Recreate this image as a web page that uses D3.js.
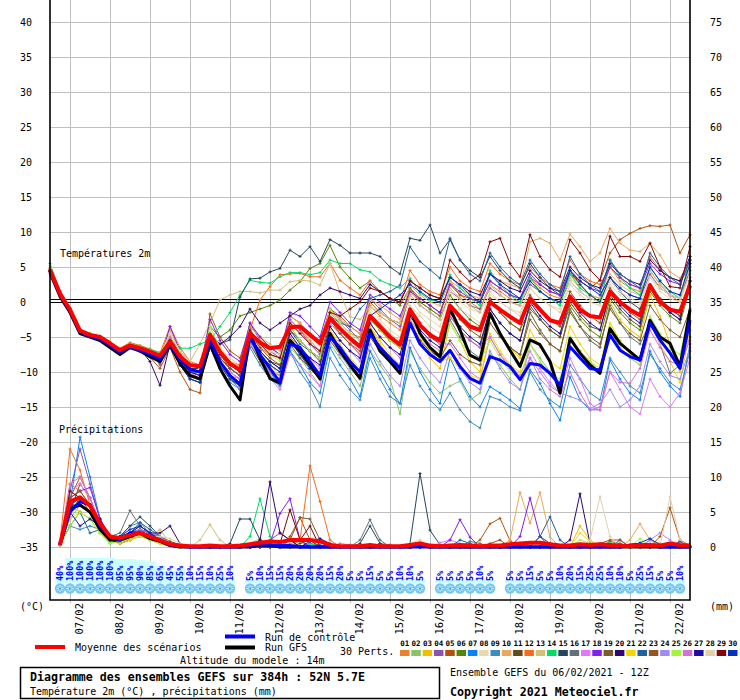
<!DOCTYPE html>
<html>
<head>
<meta charset="utf-8">
<script src="https://cdn.jsdelivr.net/npm/d3@7"></script>
<style>
  body { margin: 0; background: #fff; }
  text { font-family: "DejaVu Sans Mono", monospace; }
</style>
</head>
<body>
<div id="chart"></div>
<script>
// ---- data ----
const dateLabels = ["07/02","08/02","09/02","10/02","11/02","12/02","13/02","14/02",
  "15/02","16/02","17/02","18/02","19/02","20/02","21/02","22/02"];
const tempTicks = [40,35,30,25,20,15,10,5,0,-5,-10,-15,-20,-25,-30,-35];
const precipTicks = [75,70,65,60,55,50,45,40,35,30,25,20,15,10,5,0];

const memberColors = ["#e8822e","#88c46a","#f0c000","#8c52ae","#b2520c","#548606","#0a82fa","#e8d8b0",
  "#3c8cbe","#eaa85a","#624c1c","#fa6a1e","#d2c078","#02dc64","#22465c","#62707a",
  "#e078f8","#8220f2","#7c5c2c","#300672","#f2d800","#22609c","#92561e","#a08cf0",
  "#a4f43c","#d272d6","#200ca2","#e2d0aa","#820606","#0232be"];

// precipitation probability (%) for steps 1..64
const snowProb = [40,100,100,100,100,100,95,95,90,85,65,45,55,10,15,10,25,10,0,
  5,10,15,15,20,20,20,20,15,20,5,5,15,5,5,10,10,5,0,
  5,5,5,5,10,5,0,
  5,5,15,5,5,10,20,15,25,25,10,10,5,25,15,5,5,10,0];

// temperature 2m, 65 steps of 6h from 06/02 12Z
const tMean = [4.6,1.2,-1.1,-4.1,-4.7,-5.0,-5.9,-6.9,-6.2,-6.6,-7.1,-7.7,
  -5.7,-7.8,-9.0,-9.2,-4.7,-7.1,-8.8,-9.7, -4.5,-5.8,-6.6,-6.4,-3.6,-3.5,-4.7,-5.9,
  -2.3,-3.8,-5.2,-6.4,-2.0,-3.5,-5.0,-6.1, -1.1,-3.3,-4.7,-5.5,-0.5,-2.1,-3.5,-4.0,
  0.0,-1.1,-2.1,-3.0,0.5,-1.1,-2.6,-3.0, 0.8,-1.1,-2.0,-2.2,1.5,0.0,-1.1,-1.9,
  2.4,0.0,-1.1,-1.4,2.4];
const tControl = [4.3,1.0,-1.3,-4.3,-4.9,-5.3,-6.2,-7.2,-6.4,-6.9,-7.5,-8.2,
  -6.0,-8.3,-9.6,-10.0,-5.5,-8.5,-10.5,-11.8, -5.0,-7.5,-9.5,-11.5,-6.0,-6.5,-8.5,-10.5,
  -5.0,-6.5,-8.5,-10.0,-4.5,-6.5,-8.0,-9.5, -3.0,-6.0,-7.5,-8.5,-6.9,-9.2,-10.9,-11.6,
  -7.8,-8.3,-9.2,-11.1,-8.8,-9.0,-10.2,-11.9, -6.4,-8.0,-9.5,-9.7,-4.7,-6.9,-7.8,-8.3,
  -3.0,-5.4,-7.3,-9.5,-2.6];
const tGfs = [4.2,0.8,-1.5,-4.5,-5.0,-5.5,-6.5,-7.5,-6.5,-7.0,-7.8,-8.5,
  -6.2,-8.8,-10.5,-11.0,-6.0,-9.5,-12.0,-14.0, -4.5,-8.0,-10.9,-11.6,-5.5,-7.0,-9.0,-11.0,
  -4.5,-7.0,-9.0,-10.9,-4.0,-7.0,-8.5,-10.2, -1.0,-4.5,-6.5,-7.8,-0.9,-4.0,-7.6,-8.3,
  -1.6,-4.5,-6.9,-9.2,-5.4,-6.1,-8.5,-13.0, -5.2,-7.3,-9.0,-10.2,-3.8,-5.9,-7.1,-8.3,
  -2.6,-5.0,-5.9,-9.2,-1.1];

const t01 = [4.8,1.4,-0.9,-4.0,-4.5,-5.2,-6.1,-7.0,-6.0,-6.4,-7.3,-8.0,
  -5.0,-7.5,-9.5,-10.0,-5.5,-8.0,-9.5,-10.5, -5.0,-6.5,-7.5,-8.0,-3.0,-4.0,-5.5,-7.0,
  -1.5,-3.0,-4.5,-5.0,-0.5,-2.0,-3.0,-4.0, 1.5,0.0,-1.0,-2.0,3.0,1.0,0.0,-1.0,
  2.5,1.5,0.5,0.0,3.5,2.0,1.0,0.5, 4.0,2.5,1.0,0.5,5.0,3.0,2.0,1.5, 4.5,2.5,1.0,0.0,5.5];
const t02 = [4.4,1.0,-1.3,-4.4,-5.0,-5.3,-6.2,-7.2,-6.4,-6.9,-7.5,-8.2,
  -6.0,-8.5,-10.0,-10.5,-6.0,-9.0,-11.0,-12.0, -6.0,-8.5,-10.5,-11.5,-6.5,-8.0,-10.0,-12.0,
  -6.0,-8.0,-10.0,-12.0,-7.0,-9.0,-11.0,-16.0, -7.0,-9.5,-11.5,-13.0,-12.0,-11.3,-14.0,-13.0,
  -7.5,-9.0,-11.0,-12.5,-6.0,-8.0,-10.0,-11.5, -5.0,-7.0,-8.5,-10.0,-4.0,-6.5,-8.0,-9.0,
  -3.0,-5.5,-7.0,-8.5,-4.0];
const t03 = [4.7,1.3,-1.0,-4.2,-4.8,-5.1,-6.0,-7.0,-6.3,-6.8,-7.4,-8.3,
  -6.5,-9.0,-11.0,-11.5,-6.5,-9.5,-11.0,-12.0, -5.5,-8.0,-9.5,-10.5,-5.0,-7.0,-9.5,-11.0,
  -4.0,-6.5,-8.5,-10.0,-3.5,-6.0,-8.0,-9.5, -2.5,-5.5,-8.0,-9.5,-3.0,-5.5,-8.5,-10.0,
  -2.0,-4.5,-6.5,-8.0,-1.5,-4.0,-6.0,-7.0, -1.0,-3.5,-5.5,-6.5,0.0,-2.5,-4.0,-5.0,
  1.0,-2.0,-6.0,-10.0,-3.0];
const t04 = [4.5,1.1,-1.2,-4.0,-4.6,-4.9,-5.8,-6.8,-6.1,-6.5,-7.0,-9.0,
  -5.5,-8.0,-10.0,-10.5,-4.5,-7.0,-9.0,-10.0, -3.0,-5.5,-7.0,-8.0,-2.5,-4.0,-6.0,-7.5,
  -1.0,-2.5,-4.0,-5.5,0.5,-1.0,-2.5,-3.5, 1.0,-0.5,-1.5,-2.5,1.5,0.5,-0.5,-1.0,
  2.0,1.0,0.0,-0.5,2.5,1.5,0.5,0.0, 3.0,1.5,0.5,0.0,3.5,2.0,1.0,0.5, 4.0,2.0,1.0,0.5,4.5];
const t05 = [4.3,0.9,-1.4,-4.3,-4.8,-5.4,-6.3,-7.4,-6.6,-7.1,-7.9,-9.5,
  -6.5,-10.0,-12.5,-13.0,-1.7,-5.0,-7.0,-8.0, -3.5,-5.0,-6.5,-7.5,-2.0,-3.0,-4.5,-5.5,
  -1.0,-2.0,-3.5,-4.5,0.0,-1.5,-2.5,-3.0, 2.0,0.5,-0.5,-1.5,2.5,1.0,0.5,0.0,
  3.0,2.0,1.0,0.5,3.5,2.5,1.5,1.0, 4.0,3.0,2.0,3.1,7.0,8.9,9.8,10.5, 10.9,10.8,11.0,7.0,9.6];
const t06 = [4.6,1.2,-1.0,-4.1,-4.7,-5.1,-6.0,-7.0,-6.2,-6.7,-7.2,-7.8,
  -5.0,-7.5,-9.0,-9.5,-3.5,-5.0,-4.0,-2.0, -1.5,-1.0,-0.5,0.3,1.7,2.9,4.8,5.5,
  8.1,5.0,3.4,2.0,3.0,1.5,0.5,-0.5, 2.0,0.0,-1.0,-2.0,1.0,-1.0,-2.5,-3.5,
  0.5,-1.5,-3.0,-4.0,-1.0,-2.5,-4.0,-5.0, -0.5,-2.5,-4.0,-5.0,0.5,-1.5,-3.0,-4.0,
  1.5,-0.5,-2.0,-3.0,2.0];
const t07 = [4.4,1.1,-1.2,-4.2,-4.9,-5.2,-6.1,-7.1,-6.3,-6.8,-7.3,-8.0,
  -6.0,-8.5,-10.5,-11.0,-6.0,-9.0,-11.0,-12.5, -5.5,-8.0,-10.0,-12.0,-7.0,-9.0,-11.5,-13.0,
  -6.5,-9.0,-11.0,-13.5,-7.0,-10.0,-12.5,-14.5, -6.5,-10.0,-12.5,-14.5,-8.0,-11.0,-13.5,-15.0,
  -12.1,-13.0,-14.0,-15.2,-9.7,-11.6,-14.5,-16.9, -10.7,-14.0,-15.4,-15.4,-8.3,-11.0,-13.0,-14.0,
  -7.0,-10.0,-12.0,-13.5,-6.0];
const t08 = [4.7,1.3,-1.1,-4.0,-4.6,-5.0,-5.8,-6.8,-6.0,-6.5,-7.0,-7.6,
  -5.0,-7.0,-9.0,-9.0,-4.0,-6.5,-8.0,-9.0, -4.0,-5.5,-7.0,-7.5,-3.0,-4.5,-6.0,-7.0,
  -2.5,-4.0,-5.5,-7.0,-1.0,-2.5,-4.0,-5.0, 0.5,-1.5,-2.5,-3.5,1.5,0.0,-1.0,-1.5,
  1.0,0.0,-1.0,-1.5,2.0,0.5,-0.5,-1.0, 3.0,1.5,0.5,0.0,2.5,1.0,0.0,-0.5, 3.5,1.5,0.5,0.0,4.0];
const t09 = [4.5,1.1,-1.2,-4.2,-4.8,-5.2,-6.2,-7.3,-6.4,-6.9,-7.5,-8.3,
  -6.5,-9.0,-11.0,-11.5,-6.5,-9.5,-11.5,-12.5, -6.5,-9.0,-11.0,-12.0,-7.0,-10.0,-12.0,-15.0,
  -8.0,-10.5,-12.5,-14.0,-8.0,-11.0,-13.5,-14.5, -9.0,-12.0,-14.0,-15.4,-13.0,-15.4,-17.1,-18.0,
  -13.5,-14.0,-15.0,-15.5,-10.0,-12.5,-14.0,-15.0, -9.0,-11.0,-13.0,-14.0,-8.0,-10.0,-12.0,-13.0,
  -7.5,-9.5,-11.5,-12.5,-7.0];
const t10 = [4.6,1.2,-1.0,-4.0,-4.6,-5.1,-6.0,-6.9,-6.1,-6.5,-7.1,-7.6,
  -4.0,-7.0,-9.0,-9.5,-4.5,-7.0,-8.5,-9.0, -3.5,-5.0,-6.0,-7.0,-2.0,-3.0,-4.5,-6.0,
  -1.0,-2.5,-3.5,-4.5,0.5,-0.5,-1.5,-2.5, 2.5,1.0,0.0,-0.5,3.0,2.0,1.0,0.5,
  4.0,3.0,2.5,2.0,8.6,9.1,8.4,6.0, 9.7,7.9,5.8,7.0,10.5,8.4,7.4,7.2, 8.4,6.7,4.3,3.4,6.0];
const t11 = [4.5,1.2,-1.1,-4.1,-4.7,-5.0,-5.9,-7.0,-6.2,-6.6,-7.2,-7.9,
  -5.5,-8.0,-10.0,-10.5,-5.0,-7.5,-9.5,-10.5, -5.0,-7.0,-8.5,-9.0,-4.0,-5.5,-7.0,-8.5,
  -3.0,-4.5,-6.0,-7.5,-2.5,-4.0,-5.5,-6.5, -1.5,-3.5,-5.0,-6.0,-2.0,-4.0,-5.5,-6.5,
  -1.0,-3.0,-4.5,-5.5,-0.5,-2.5,-4.0,-5.0, 0.0,-2.0,-3.5,-4.0,1.0,-1.0,-2.5,-3.5,
  2.0,0.0,-1.5,-2.5,3.0];
const t12 = [4.9,1.5,-0.8,-3.9,-4.5,-4.9,-5.7,-6.6,-5.8,-6.2,-6.7,-7.3,
  -3.5,-6.5,-8.5,-9.0,-4.5,-7.5,-9.0,-9.0, -4.0,0.3,2.2,3.9,4.0,4.1,3.6,3.6,
  5.5,3.1,2.0,1.0,3.0,1.5,0.5,0.0, 4.5,2.5,1.5,1.0,5.0,3.0,2.0,1.5,
  5.5,4.0,3.0,2.5,5.0,3.5,2.5,2.0, 6.0,4.0,3.0,2.5,5.0,3.5,2.5,2.0, 6.5,4.5,3.5,3.0,5.0];
const t13 = [4.6,1.3,-1.0,-4.0,-4.6,-5.0,-5.9,-6.8,-6.1,-6.5,-7.0,-7.5,
  -5.0,-7.0,-8.5,-6.0,-3.0,0.3,1.0,1.5, 1.5,1.3,1.7,1.7,2.9,3.1,3.0,2.4,
  5.5,1.3,-2.1,-2.5,-0.7,-1.5,-2.5,-3.0, 1.0,-0.5,-1.5,-2.5,2.0,0.5,-0.5,-1.5,
  2.5,1.0,0.0,-0.5,3.0,1.5,0.5,0.0, 3.5,2.0,1.0,0.5,4.0,2.5,1.5,1.0, 4.5,2.5,1.5,1.0,5.0];
const t14 = [5.5,1.6,-0.9,-4.0,-4.5,-4.9,-5.8,-6.7,-6.0,-6.3,-6.8,-7.2,
  -5.5,-6.6,-6.6,-6.0,-5.5,-3.5,-1.5,1.0, 3.1,2.8,2.7,3.6,4.2,4.2,3.9,4.2,
  6.0,5.5,5.5,4.6,4.3,3.1,2.5,2.0, 3.4,1.3,0.3,0.0,3.9,2.0,0.5,-0.5,
  4.5,2.5,1.0,0.0,3.5,1.5,0.5,-0.5, 4.0,2.0,1.0,0.0,6.0,3.5,2.0,1.0, 5.0,3.0,1.5,0.5,6.5];
const t15 = [4.4,1.0,-1.2,-4.3,-4.9,-5.3,-6.3,-7.3,-6.5,-7.0,-7.6,-8.4,
  -6.0,-8.0,-9.5,-9.5,-5.0,-6.0,-5.4,0.7, 3.3,3.4,4.3,4.8,7.4,6.5,7.9,5.8,
  8.9,8.1,7.0,7.0,7.0,6.5,5.0,4.0, 9.1,8.8,11.0,7.0,8.9,6.0,4.5,3.5,
  6.5,4.5,3.0,2.0,5.5,3.5,2.0,1.0, 4.5,2.5,1.0,0.0,3.5,1.5,0.0,-1.0, 2.5,0.5,-1.0,-2.0,3.0];
const t16 = [4.5,1.1,-1.1,-4.2,-4.8,-5.1,-6.0,-7.1,-6.3,-6.8,-7.4,-8.8,
  -6.0,-9.0,-10.5,-11.0,-5.5,-8.5,-10.0,-11.0, -5.0,-7.5,-9.0,-10.0,-5.5,-7.5,-9.0,-10.5,
  -4.5,-7.0,-8.5,-10.0,-4.0,-6.5,-8.0,-9.0, -3.0,-5.5,-7.0,-8.0,-2.5,-5.0,-7.0,-8.0,
  -2.0,-4.5,-6.5,-7.5,-1.5,-4.0,-6.0,-7.0, -1.0,-3.5,-5.5,-6.5,-0.5,-3.0,-5.0,-6.0,
  -3.0,-6.0,-10.2,-9.0,-5.0];
const t17 = [4.7,1.3,-1.0,-4.1,-4.7,-5.0,-5.9,-6.9,-6.2,-6.7,-7.2,-7.8,
  -5.5,-8.0,-10.0,-11.0,-6.0,-9.0,-10.0,-11.0, -5.5,-8.5,-11.0,-12.5,-7.5,-9.0,-10.5,-12.0,
  -3.0,-4.5,-6.0,-7.5,-2.0,-3.5,-5.0,-6.5, -1.5,-3.0,-4.5,-6.0,-6.0,-8.0,-10.0,-11.0,
  -5.0,-7.5,-9.0,-10.5,-7.0,-9.5,-11.5,-13.0, -8.0,-11.0,-14.5,-15.5,-10.0,-12.5,-15.0,-16.0,
  -11.0,-13.5,-15.0,-13.0,-8.0];
const t18 = [4.5,1.2,-1.1,-4.0,-4.6,-5.0,-6.0,-6.9,-6.1,-6.5,-7.1,-8.5,
  -3.5,-7.0,-9.0,-9.5,-2.5,-5.5,-7.5,-8.5, -3.0,-5.0,-6.5,-7.5,-1.5,-2.0,-3.5,-5.0,
  0.0,-1.5,-3.0,-4.0,1.0,0.0,-1.0,-2.0, 1.5,0.5,-0.5,-1.5,2.5,1.5,0.5,0.0,
  3.0,2.0,1.0,0.5,4.0,2.5,1.5,1.0, 4.5,3.0,2.0,1.5,5.0,3.5,2.5,2.0, 5.5,4.0,3.0,2.5,6.0];
const t19 = [4.3,0.9,-1.3,-4.3,-4.9,-5.2,-6.2,-7.3,-6.5,-6.9,-7.6,-8.5,
  -6.0,-9.0,-11.0,-11.5,-6.0,-9.0,-11.0,-12.0, -6.0,-8.5,-10.0,-11.0,-6.0,-8.0,-9.5,-10.5,
  -5.5,-7.5,-9.0,-10.5,-5.0,-7.0,-8.5,-9.5, -3.5,-5.5,-7.0,-8.0,-5.5,-7.5,-8.5,-9.0,
  -3.0,-5.0,-6.5,-7.5,-2.5,-4.5,-6.0,-7.0, -1.5,-3.5,-5.0,-6.0,-1.0,-3.0,-4.5,-5.5,
  -0.5,-2.5,-4.0,-5.0,-1.0];
const t20 = [4.6,1.2,-1.0,-4.1,-4.7,-5.0,-6.0,-7.0,-6.2,-6.7,-8.5,-11.9,
  -6.0,-8.5,-10.0,-10.0,-4.5,-6.0,-5.0,-3.5, -1.0,-3.0,-4.0,-3.0,-2.0,-1.0,-0.5,1.0,
  2.0,1.5,1.0,0.5,2.5,1.5,0.5,0.0, 3.0,2.0,1.0,0.5,3.5,2.5,1.5,1.0,
  4.0,3.0,2.0,1.5,4.5,3.0,2.0,1.5, 5.0,3.5,2.5,2.0,5.5,4.0,3.0,2.5, 6.0,4.5,3.5,3.0,6.5];
const t21 = [4.6,1.2,-1.1,-4.2,-4.8,-5.1,-6.1,-7.1,-6.3,-6.8,-7.3,-8.1,
  -5.5,-8.5,-10.5,-11.0,-6.0,-9.0,-11.0,-12.0, -5.5,-7.5,-9.0,-10.5,-5.0,-7.0,-9.0,-10.0,
  -4.0,-6.0,-8.0,-9.5,-3.5,-5.5,-7.5,-9.0, -3.0,-5.0,-7.0,-8.5,-8.0,-9.5,-10.5,-11.0,
  -4.5,-7.0,-9.0,-10.0,-4.0,-6.5,-8.5,-9.5, -3.5,-6.0,-8.0,-9.0,-3.0,-5.5,-7.5,-8.5,
  -2.5,-6.0,-8.5,-11.5,-4.0];
const t22 = [4.4,1.0,-1.3,-4.3,-4.9,-5.2,-6.1,-7.2,-6.4,-6.9,-7.4,-8.2,
  -6.0,-8.5,-10.5,-11.0,-5.5,-8.0,-9.5,-10.5, -5.0,-7.0,-8.5,-9.5,-4.0,-6.0,-7.0,-8.0,
  -2.0,-3.0,-3.5,-1.0,0.5,1.0,1.5,2.4, 7.9,5.8,4.6,3.4,9.1,6.0,4.0,3.0,
  7.0,5.0,3.5,2.5,6.0,4.0,2.5,1.5, 6.5,4.0,2.5,1.5,6.0,4.0,3.0,2.0, 7.0,5.0,3.5,2.5,6.0];
const t23 = [4.5,1.1,-1.2,-4.1,-4.7,-5.1,-6.0,-7.0,-6.2,-6.6,-7.1,-7.8,
  -5.0,-7.5,-9.5,-10.0,-5.0,-8.0,-9.5,-10.5, -4.5,-6.5,-8.0,-9.0,-3.5,-5.5,-7.0,-8.0,
  -2.5,-4.5,-6.0,-7.0,-2.0,-4.0,-5.5,-6.5, -1.0,-3.0,-4.5,-5.5,-0.5,-2.5,-4.0,-5.0,
  0.5,-1.5,-3.0,-4.0,1.0,-1.0,-2.5,-3.5, 1.5,-0.5,-2.0,-3.0,2.0,0.0,-1.5,-2.5,
  2.5,0.5,-1.0,-2.0,3.5];
const t24 = [4.5,1.2,-1.1,-4.2,-4.8,-5.2,-6.1,-7.1,-6.3,-6.8,-7.4,-8.0,
  -6.0,-8.5,-10.5,-11.0,-6.0,-8.5,-10.5,-11.5, -6.0,-8.0,-10.0,-11.0,-5.5,-7.5,-9.5,-10.5,
  -5.0,-7.5,-9.5,-11.0,-6.0,-8.5,-10.5,-12.0, -5.5,-8.0,-10.0,-11.5,-7.0,-9.5,-11.5,-12.5,
  -7.0,-9.5,-11.5,-12.5,-8.0,-10.0,-12.0,-13.0, -13.5,-14.0,-15.2,-14.5,-12.5,-15.0,-14.0,-12.0,
  -6.0,-8.5,-10.5,-11.0,-6.5];
const t25 = [5.2,1.5,-0.9,-4.0,-4.5,-4.9,-5.8,-6.8,-6.0,-6.4,-6.9,-7.5,
  -4.5,-7.0,-9.0,-9.5,-3.5,-6.5,-8.5,-9.5, -4.0,-6.0,-7.5,-8.5,-3.5,-5.5,-7.0,-8.0,
  -1.0,-3.0,-4.5,-5.5,-2.5,-4.0,-5.5,-6.5, -2.0,-4.5,-6.0,-7.0,-3.0,-5.5,-7.5,-8.5,
  -5.5,-8.0,-10.0,-11.0,-6.0,-8.5,-10.5,-11.0, -5.0,-7.0,-8.5,-9.5,-3.5,-5.5,-7.0,-8.0,
  -2.0,-4.5,-6.5,-7.5,-1.5];
const t26 = [4.6,1.2,-1.1,-4.0,-4.6,-5.0,-5.9,-6.9,-6.1,-6.6,-7.1,-7.7,
  -5.0,-8.0,-10.0,-10.5,-5.0,-8.5,-10.5,-11.0, -4.0,-8.5,-10.0,-10.5,-5.0,-6.5,-8.0,-9.5,
  -3.5,-5.5,-7.0,-8.5,-3.0,-5.0,-6.5,-8.0, -2.5,-4.5,-6.0,-7.0,-2.0,-4.0,-5.5,-6.5,
  -5.0,-7.5,-9.5,-11.0,-8.0,-11.0,-12.5,-13.5, -10.0,-13.0,-15.4,-15.0,-10.0,-11.5,-11.6,-9.5,
  -4.0,-6.5,-8.5,-9.0,-5.5];
const t27 = [4.4,1.0,-1.2,-4.2,-4.8,-5.2,-6.1,-7.1,-6.4,-6.8,-7.4,-8.1,
  -5.5,-8.0,-10.0,-10.5,-5.5,-8.5,-10.5,-11.5, -5.0,-7.0,-8.5,-9.5,-4.5,-6.5,-8.0,-9.0,
  -3.5,-5.5,-7.0,-8.0,-3.0,-5.0,-6.5,-7.5, -2.0,-4.0,-5.5,-6.5,-1.5,-3.5,-5.0,-6.0,
  -1.0,-3.0,-4.5,-5.5,0.0,-2.0,-3.5,-4.5, 0.5,-1.5,-3.0,-4.0,1.5,-0.5,-2.0,-3.0,
  2.0,0.0,-1.5,-2.5,3.0];
const t28 = [4.7,1.3,-1.0,-4.1,-4.7,-5.0,-6.0,-7.0,-6.2,-6.6,-7.1,-7.7,
  -4.5,-7.0,-9.0,-9.5,-4.5,-7.0,-8.5,-9.5, -4.0,-6.0,-7.0,-7.5,-3.0,-4.5,-6.0,-7.0,
  -2.0,-3.5,-5.0,-6.0,-1.5,-3.0,-4.5,-5.5, -0.5,-2.0,-3.5,-4.5,0.5,-1.0,-2.0,-3.0,
  1.5,0.0,-1.0,-2.0,2.0,0.5,-0.5,-1.5, 2.5,1.0,0.0,-0.5,3.0,1.5,0.5,0.0, 3.5,2.0,1.0,0.5,4.0];
const t29 = [4.5,1.1,-1.1,-4.1,-4.7,-5.1,-6.0,-7.0,-6.2,-6.7,-7.2,-7.9,
  -5.5,-8.0,-9.5,-10.0,-5.0,-7.5,-9.0,-10.0, -4.0,-6.0,-7.5,-8.0,-3.0,-4.5,-6.0,-7.0,
  -1.5,-2.0,-1.0,0.0,2.0,1.5,0.5,0.0, 3.0,2.0,1.0,0.5,6.0,4.3,2.9,3.9,
  8.6,9.1,5.5,3.6,9.6,6.5,4.6,3.6, 8.9,7.0,4.6,3.1,9.4,6.5,6.5,5.8, 8.4,5.0,2.2,2.0,7.9];
const t30 = [4.4,1.0,-1.3,-4.3,-4.9,-5.3,-6.2,-7.2,-6.4,-6.9,-7.5,-8.2,
  -6.0,-9.0,-11.0,-11.5,-6.0,-9.0,-11.0,-12.0, -5.5,-7.5,-9.0,-10.0,-5.5,-7.5,-9.5,-11.0,
  -4.5,-6.5,-8.5,-10.0,-2.0,-1.0,0.0,1.0, 2.5,1.5,0.5,0.0,3.5,2.5,1.0,0.0,
  4.0,2.5,1.5,0.5,3.0,1.5,0.5,0.0, 4.5,3.0,2.0,1.0,3.5,2.0,1.0,0.5, 5.0,3.0,1.5,1.0,5.5];

// precipitation (mm / 6h), 64 steps (06/02 18Z .. 22/02 12Z)
const pMean = [0.3,6.5,7.1,5.9,3.4,1.5,1.3,1.7,2.0,1.5,0.9,0.4,0.2,
  0.1,0.1,0.2,0.1,0.1,0.2,0.4,0.6,0.8,0.7, 1.0,1.0,1.0,0.8,0.3,0.1,0.1,0.1,0.3,0.1,
  0.1,0.1,0.3,0.5,0.2,0.1,0.2,0.3,0.2,0.1, 0.2,0.2,0.4,0.5,0.6,0.6,0.4,0.2,0.2,0.4,
  0.3,0.4,0.3,0.2,0.1,0.3,0.3,0.2,0.5,0.3, 0.2];
const pControl = [0.3,5.0,6.5,6.0,3.0,1.5,1.0,2.0,2.0,1.5,1.0,0.3,0.1,
  0,0,0,0,0,0,0.2,0.3,0.3,0.2, 0.2,0,0,0,0,0,0,0,0,0,
  0,0,0,0,0,0,0,0,0,0, 0,0,0,0,0,0,0,0,0,0, 0,0,0,0,0.3,0.4,0.2,0,0,0, 0];
const pGfs = [0.3,5.5,6.0,5.0,2.5,1.0,1.0,1.5,2.0,1.2,0.8,0.2,0,
  0,0,0,0,0,0,0,0.3,0.2,0, 0,0,0,0,0,0,0,0,0,0,
  0,0,0,0.2,0,0,0,0,0,0, 0,0,0,0,0,0,0,0,0,0, 0,0,0,0,0,0,0,0,0,0, 0];

const r01 = [0.5,9,8,6,3,1,1,2,2.5,1.5,1,0.3,0.2, 0,0,0,0,0,0,0,0,0,0, 0.5,0.8,0,0,0,0,0,0,0,0,
  0,0,0,0,0,0,0,0,0,0, 0,0,0,0,0,0,0,0,0,0, 0,0,0,0,0,0,1.0,0.5,0,0, 0];
const r02 = [0.3,4,6,5,2.5,0.8,1.2,1.5,2,1,0.5,0.2,0, 0,0,0,0,0,0,0.3,0.5,0,0, 0,0,0,0,0,0,0,0,0,0,
  0,0,0,0,0,0,0,0,0,0, 0,0,0,0,0,0,0,0,0,0, 0,0,0,0,0,0,0,0,0,0, 0];
const r03 = [0.4,6,5,4,2,1,0.5,1,1.5,1.2,0.8,0.3,0.2, 0,0,0,0,0,0,0,0,0,0, 0,0,0,0,0,0,0,0,0,0,
  0,0,0,0,0,0,0,0,0,0, 0,0,0,0,0,0,0,0,0,3.0, 1.0,0,0.5,0,0,0,0,0,0,0, 0];
const r04 = [0.6,8,14,9,4,1.5,1,2,2.5,1.5,1,0.5,0.3, 0,0,0,0,0,0,0,0,1.0,2.0, 1.0,0,0,0,0,0,0,0,0,0,
  0,0,0,0,0,0,0,0,0,0, 0,0,0,0,0,0,0,0,0,0, 0,0,0,0,0,0,0,0,0,0, 0];
const r05 = [0.5,7,10,7,3.5,1.2,0.8,1.5,2,1.8,1.2,0.4,0.2, 0,0,0,0,0,0,0,0,0,0, 1.5,4.2,1.0,0,0,0,0,0,0,0,
  0,0,0,0,0,0,0,0,0,1.0, 3.3,4.1,0.9,0,0,0,0,0,0,0, 0,0,0.8,0.5,0,0,0,1.5,5.6,1.0, 0.2];
const r06 = [0.3,5,7,6,3,1,1.5,2,3,2,1,0.3,0.1, 0,0,0,0,0,0,0,1.0,0.5,0, 0,1.0,0,0,0,0,0,0,0,0,
  0,0,0,0,0,0,0,0,0,0, 0,0,0,0,0,0,0,0,0,0, 0,0,0,0,0,0,0,0,0,0, 0];
const r07 = [0.4,6,15.7,10,4,1.5,1,1.5,2,1.5,0.8,0.2,0.1, 0,0,0,0,0,0,0,0,0,0, 0,0,0.5,0.3,0,0,0,0,0,0,
  0,0,0,0,0,0,0,0,0,0, 0,0,0,0,0,0,0,0,0,0, 0,0,0,1.0,0,0,0,0,0,0, 0];
const r08 = [0.5,5,6,5,2.5,1,1,1.5,2,1,0.5,0.2,0.1, 0,0,0,0,0,0,0,0,0,0, 0,0,0,0,0,0,0,0,0,0,
  0,0,0.5,0.8,0.3,0,0,0,0,0, 0,0,0,0,0,0,0,0,0,0, 0,0,0,0,0,0,0,0,0,0, 0];
const r09 = [0.3,3,2.5,3,2.5,1,1.5,3,3.5,2,1.2,0.5,0.2, 0,0,0,0,0,0,0,0,0,0, 0,0,0,0,0,0,0,0,0,0.5,
  0.3,0,0,0,0,0,0,0,0,0, 0,0,0,0,0,0,0,0,0,0, 0,0,0,0,0,0,0,0,0,0, 0];
const r10 = [0.5,7,8,6,3,1,0.8,1.5,2,1.5,1,0.3,0.1, 0,0,0,0,0,0,0,0,0,0, 0,0,0,0,0,0,0,0,0,0,
  0,0,0,0,0,0,0,0,0,0, 0,0,1.0,7.8,3.4,7.8,1.4,0,0,0, 0,0,0,0,1.0,3.3,1.0,0,0,0, 0];
const r11 = [0.2,5,9,7,3,1.2,1,2,2.5,2,1.5,0.8,0.3, 0,0,0,0,0,0,0,0,0,0, 0,0.5,1.0,0,0,0,0,0,0,0,
  0,0,0,0,0,0,0,0,0,0, 0,0,0,0,0,0,0,0,0,0, 0,0,0,0,0,0,0,0,0,0, 0];
const r12 = [0.8,14,11,6,3,1,1,1.5,2,1.5,1,0.3,0.2, 0,0,0,0,0,0,0,0,0,0, 0,1.0,11.6,6.5,1.0,0,0,0,0,0,
  0,0,0,0,0,0,0,0,0,0, 0,0,0,0,0,0,0,0,0,0, 0,0,0,0,0,0,0,0,0,0, 0];
const r13 = [0.4,6,7,5,2.5,1,1,1.5,2,1.5,2.5,0.5,0.3, 0,1.0,3.2,1.0,0,0,0.5,1.2,0,0, 0,0,0,0,0,0,0,0,0,0,
  0,0,0,0,0,0,0,0,0,0, 0,0,0,0,0,0,0,0,0,0, 0,0,0,0,0,0,0,0,0,0, 0];
const r14 = [0.3,5,6,5,2,0.5,1,1.5,2,1,0.5,0.2,0, 0,0,0,0,0,0,1.5,6.9,1.5,0, 0,0,0.5,0,0,0,0,0,0,0,
  0,0,0,0,0,0,0,0,0,0, 0,0,0,0,0,0,0,0,0,0, 0,0,0.6,0,0,0,0,0,0,0, 0];
const r15 = [0.5,6,7,6,3,1,1.5,3,4.3,3,1.5,0.5,0.2, 0,0,0,0,0.5,4.0,4.0,1.0,0,0, 0,0,0,0,0,0,0,0.5,3.0,0.5,
  0,0,0.5,10.5,2.4,0.3,0,0,0,0, 0,0,0,0,0,1.5,0.5,0,0,0, 0,0,0,0,0,0,0,0,0,0, 0];
const r16 = [0.3,5,6,5,3,1.5,2,5.2,3,2,1,0.4,0.2, 0,0,0,0,0,0,0,0,0,0, 0,0,0,0,0,0,0,1.0,3.9,1.0,
  0,0,0,0,0,0,0,0,0.8,0.5, 0,0,0,0,0,0,0,0,0,0, 0,0,0,0,0,0,0,0,0,0, 0];
const r17 = [0.6,8,9,7,3.5,1,1,1.5,2,1.5,1,0.3,0.1, 0,0,0,0,0,0,0,0,0,0, 0,0,0,0,0,0,0,0,0,0,
  0,0,0,0,0,0.6,1.0,0.5,0,0, 0,0,0,0,0,0,0,0,0,0, 0,0,0,0,0,0,0,0,0,0, 0];
const r18 = [0.5,7,8,8.5,4,1.5,1,2,2.5,2,1.5,0.5,0.2, 0,0,0,0,0,0,0,0,0.5,4.8, 6.9,1.0,0,0,0,0,0,0,0,0,
  0,0,0,0,0,0,1.0,3.9,1.4,0, 0,0,0,1.5,7.0,1.5,0,0,0,0, 0,0,0,0,0,0,0,0,0,0, 0];
const r19 = [0.4,6,7,5,2.5,1,0.8,1.2,1.5,1.2,0.8,0.3,0.1, 0,0,0,0,0,0,0,0,0,0, 1.0,4.2,4.0,1.0,0,0,0,0,0,0,
  0,0,0,0,0,0,0,0,0,0, 0,0,0,0,0,0,0,0,0,0, 0,0,0,0,0,0,0,0,0,0, 0];
const r20 = [0.5,6,6,5,4,1,0.5,1,2.5,2,2,3,0.5, 0,0,0,0,0,0,0,1.0,9.3,2.0, 1.0,0,0,0,0,0,0,0,0,0,
  0,0,0,0,0,0,0,0,0,0, 0,0,0,0,0,0,0,0,1.0,7.6, 0.5,0,0,0,0,0,0,0,0,0.8, 0];
const r21 = [0.3,4,5,4,2,0.8,0.5,1,1.5,1,0.5,0.2,0, 0,0,0,0,0,0,0,0,0,0, 0,0,0,0,0,0,0,0,0,0,
  0,0,0,0,0,0,0,0,0,0, 0,0,0,0,0,0,0,0,0,2.0, 0.8,0,0,0,0,0,0,0,0,0, 0];
const r22 = [0.5,3,5,2,2.5,1,1.5,2,3.5,2.5,1.5,0.5,0.2, 0,0,0,0,0,0,0,0,0,0, 0,0,0,0,0,0,0,0,0,0,
  0,0,0,0,0,0,0,1.0,0.5,0, 0,0,0,0,0,1.5,4.3,1.0,0,0, 0,0,0,0,0,0,0,0,0,0, 0];
const r23 = [0.4,7,8,6,3,1,1,1.5,2,1.5,1,0.3,0.1, 0,0,0,0,0,0,0,0,0,0, 0,0,0,0,0,0,0,0,0,0,
  0,0,0,0,0,0,0,0,0,0, 0.5,1.0,0,0,0,0,0,0,0,0, 0,0.5,1.0,1.0,0,0,0,0,0,0, 0];
const r24 = [0.5,6,7,6,3,1.2,1,2,2.5,2,1.5,0.5,0.2, 0,0,0,0,0,0,0,0,0,0, 0,0,0,0,0,0,0,0,0,0,
  0,0,0,0,0,0,0,0,0,0, 0,0,0,0,0,0,0,0,0,0, 0,0,0,0,0,0,1.0,2.0,1.0,0, 0];
const r25 = [0.2,3,5,4,2,0.5,0.8,1.2,1.5,1,0.5,0.2,0, 0,0,0,0,0,0,0,0,0,0, 0,0,0,0,0,0,0,0,0,0,
  0,0,0,0,0,0,0,0,0,0, 0,0,0,0,0,0,0,0,0,1.0, 0.5,0,0,0,0,1.2,0,0,0,0, 0];
const r26 = [0.6,9,10,7,3,1,1,1.5,2,1.5,1,0.3,0.1, 0,0,0,0,0,0,0,0,0,0, 0,0,0,0,0,0.5,0.3,0,0,0,
  0,0,0,0,0,0,0,0,0,0, 0,0,0,0,0,0,0,0,0,0, 0,0,0,0,0,0,0.5,0,0,0, 0];
const r27 = [0.4,5,3,4,3,1.5,1.5,2,3,2,1,0.4,0.2, 0,0,0,0,0,0,0,0,0,0, 0,0,0.8,1.2,0.5,0,0,0,0,0,
  0,0,0,0,0,0,0,0,0,0, 0,0,0,0,0,0,0,0,0,0, 0,0,0,0,0,0,0,0,0,0, 0];
const r28 = [0.3,5,6,5,2.5,1,1,1.5,2,1.5,1.5,1.2,0.5, 0,0,0,0,0,0,0,0,0,0, 0,0,0,0,0,0,0,0,0,0,
  0,0,0.5,1.0,0,0,0,0,0,0, 0,0,0,0,0,0,0,0,0,0, 1.0,7.2,1.5,0,0,0,0,0,7.2,1.0, 0];
const r29 = [0.5,8,7,6,3,1,1,1.5,2,1.5,1,0.3,0.1, 0,0,0,0,0,0,0,0,0,0.5, 5.3,1.0,3.0,0,0,0,0,0,0,0,
  0,0,0,0,0,0,0,0,0,0, 0,0,0,0,0,0,0,0,0,0, 0,0,0,0,0,0,0,0,0,0, 0];
const r30 = [0.4,6,7,6,3,1.5,1.5,2.5,3,2,1,0.3,0.1, 0,0,0,0,0,0,0,0,0,0, 0,0,0,0,0,0,0,0,0,0,
  0,0,0,0,0,0,0,0,0,0, 0,0,0,0,0,0,0,0,0,0, 0,0,0,0,0,0.6,1.2,0.3,0,0, 0];

const pertTemp = [t01,t02,t03,t04,t05,t06,t07,t08,t09,t10,t11,t12,t13,t14,t15,
  t16,t17,t18,t19,t20,t21,t22,t23,t24,t25,t26,t27,t28,t29,t30];
const pertPrecip = [r01,r02,r03,r04,r05,r06,r07,r08,r09,r10,r11,r12,r13,r14,r15,
  r16,r17,r18,r19,r20,r21,r22,r23,r24,r25,r26,r27,r28,r29,r30];

// ---- layout ----
const W = 740, H = 700;
const plot = { left: 50, right: 690, top: 0, bottom: 600 };

const svg = d3.select("#chart").append("svg")
  .attr("width", W).attr("height", H)
  .style("font-family", "'DejaVu Sans Mono', monospace");

const x = d3.scaleLinear().domain([0, 384]).range([plot.left, plot.right]);
const yTemp = d3.scaleLinear().domain([-35, 40]).range([547, 22]);
const yPrecip = d3.scaleLinear().domain([0, 75]).range([547, 22]);
const barH = d3.scaleLinear().domain([0, 100]).range([2, 25]);

const stepHour = i => i * 6;
const dateHours = dateLabels.map((d, i) => 12 + 24 * i);

// grid
const grid = svg.append("g").attr("stroke", "#c0c0c0").attr("stroke-width", 1);
grid.selectAll(".h").data(tempTicks).join("line")
  .attr("x1", plot.left).attr("x2", plot.right)
  .attr("y1", d => Math.round(yTemp(d)) + 0.5).attr("y2", d => Math.round(yTemp(d)) + 0.5);
grid.selectAll(".v").data(dateHours).join("line")
  .attr("x1", d => Math.round(x(d)) + 0.5).attr("x2", d => Math.round(x(d)) + 0.5)
  .attr("y1", plot.top).attr("y2", plot.bottom + 3);

// snow probability band
const band = svg.append("g");
const probSteps = snowProb.map((p, k) => ({ p, step: k + 1 })).filter(d => d.p > 0);

band.selectAll("rect.bg").data(probSteps).join("rect")
  .attr("x", d => x(stepHour(d.step)) - 5)
  .attr("width", 10)
  .attr("y", d => 583 - barH(d.p))
  .attr("height", d => barH(d.p))
  .attr("fill", "#c8ffff");

const flakes = band.selectAll("g.flake").data(probSteps).join("g")
  .attr("transform", d => `translate(${x(stepHour(d.step))},588.5)`);
flakes.append("circle").attr("r", 5.2).attr("fill", "#74c8f0");
flakes.append("path")
  .attr("d", "M-3.5,0H3.5M0,-3.5V3.5M-2.4,-2.4L2.4,2.4M-2.4,2.4L2.4,-2.4")
  .attr("stroke", "#d6f2ff").attr("stroke-width", 0.9);
flakes.append("circle").attr("r", 1.2).attr("fill", "#4aa8e0");

band.selectAll("text").data(probSteps).join("text")
  .attr("transform", d => `translate(${x(stepHour(d.step)) + 2.5},581) rotate(-90)`)
  .attr("fill", "#0000ff")
  .attr("font-size", "8.5px")
  .attr("font-weight", "bold")
  .text(d => d.p + "%");

// zero line (double)
svg.append("line")
  .attr("x1", plot.left).attr("x2", plot.right)
  .attr("y1", yTemp(0) - 2.5).attr("y2", yTemp(0) - 2.5)
  .attr("stroke", "#000").attr("stroke-width", 1);
svg.append("line")
  .attr("x1", plot.left).attr("x2", plot.right)
  .attr("y1", yTemp(0) + 0.5).attr("y2", yTemp(0) + 0.5)
  .attr("stroke", "#000").attr("stroke-width", 1);

// series
const tempLine = d3.line().x((d, i) => x(stepHour(i))).y(d => yTemp(d));
const precipLine = d3.line().x((d, k) => x(stepHour(k + 1))).y(d => yPrecip(d));
const cross = "M-1.5,0H1.5M0,-1.5V1.5";

const members = svg.append("g").attr("fill", "none");
pertTemp.forEach((series, m) => {
  const color = memberColors[m];
  const g = members.append("g");
  g.append("path").attr("d", tempLine(series)).attr("stroke", color).attr("stroke-width", 1);
  g.append("path").attr("d", precipLine(pertPrecip[m])).attr("stroke", color).attr("stroke-width", 1);
  g.selectAll("path.mt").data(series).join("path")
    .attr("class", "mt")
    .attr("transform", (d, i) => `translate(${x(stepHour(i))},${yTemp(d)})`)
    .attr("d", cross).attr("stroke", color);
  g.selectAll("path.mp").data(pertPrecip[m]).join("path")
    .attr("class", "mp")
    .attr("transform", (d, k) => `translate(${x(stepHour(k + 1))},${yPrecip(d)})`)
    .attr("d", cross).attr("stroke", color);
});

const mains = [
  { t: tGfs, p: pGfs, color: "#000000", w: 3 },
  { t: tControl, p: pControl, color: "#0000ff", w: 3 },
  { t: tMean, p: pMean, color: "#ff0000", w: 4 }
];
mains.forEach(s => {
  svg.append("path").attr("d", tempLine(s.t)).attr("fill", "none")
    .attr("stroke", s.color).attr("stroke-width", s.w).attr("stroke-linejoin", "round");
  svg.append("path").attr("d", precipLine(s.p)).attr("fill", "none")
    .attr("stroke", s.color).attr("stroke-width", s.w).attr("stroke-linejoin", "round");
});

// frame
svg.append("path")
  .attr("d", `M${plot.left},${plot.top}V${plot.bottom}H${plot.right}V${plot.top}`)
  .attr("fill", "none").attr("stroke", "#000").attr("stroke-width", 1.6);

// axes
const axisLeft = svg.append("g").attr("transform", "translate(20,0)")
  .call(d3.axisLeft(yTemp).tickValues(tempTicks).tickSize(0).tickPadding(0));
axisLeft.select(".domain").remove();
axisLeft.attr("font-family", "'DejaVu Sans Mono', monospace").attr("font-size", 10);
axisLeft.selectAll("text").attr("text-anchor", "start").attr("x", 0).attr("fill", "#000");

const axisRight = svg.append("g").attr("transform", "translate(710,0)")
  .call(d3.axisRight(yPrecip).tickValues(precipTicks).tickSize(0).tickPadding(0));
axisRight.select(".domain").remove();
axisRight.attr("font-family", "'DejaVu Sans Mono', monospace").attr("font-size", 10);
axisRight.selectAll("text").attr("fill", "#000");

const axisBottom = svg.append("g").attr("transform", `translate(0,${plot.bottom})`)
  .call(d3.axisBottom(x).tickValues(dateHours).tickFormat((d, i) => dateLabels[i]).tickSize(0));
axisBottom.select(".domain").remove();
axisBottom.attr("font-family", "'DejaVu Sans Mono', monospace").attr("font-size", 10.5);
axisBottom.selectAll("text")
  .attr("transform", "rotate(-90)")
  .attr("x", -3).attr("y", 12).attr("dy", 0)
  .attr("text-anchor", "end").attr("fill", "#000");

// labels inside plot
const label = (tx, ty, txt, opts = {}) => svg.append("text")
  .attr("x", tx).attr("y", ty)
  .attr("font-size", opts.size || "10px")
  .attr("font-weight", opts.bold ? "bold" : "normal")
  .attr("fill", "#000")
  .text(txt);

label(60, 257, "Températures 2m");
label(59, 433, "Précipitations");
label(20, 610, "(°C)");
label(710, 610, "(mm)");

// legend
const legend = svg.append("g");
legend.append("line").attr("x1", 35).attr("x2", 65).attr("y1", 647).attr("y2", 647)
  .attr("stroke", "#ff0000").attr("stroke-width", 4);
legend.append("line").attr("x1", 225).attr("x2", 255).attr("y1", 636.5).attr("y2", 636.5)
  .attr("stroke", "#0000ff").attr("stroke-width", 4);
legend.append("line").attr("x1", 225).attr("x2", 255).attr("y1", 647.5).attr("y2", 647.5)
  .attr("stroke", "#000").attr("stroke-width", 4);
label(75, 651, "Moyenne des scénarios");
label(265, 641, "Run de contrôle");
label(265, 651, "Run GFS");
label(340, 655, "30 Perts.");
label(180, 664, "Altitude du modele : 14m");

const swatchX = d3.scaleLinear().domain([0, 29]).range([400, 728]);
const sw = svg.append("g");
sw.selectAll("rect").data(memberColors).join("rect")
  .attr("x", (d, i) => swatchX(i)).attr("y", 650)
  .attr("width", 9.5).attr("height", 6)
  .attr("fill", d => d);
sw.selectAll("text").data(memberColors).join("text")
  .attr("x", (d, i) => swatchX(i) + 4.8).attr("y", 646)
  .attr("text-anchor", "middle")
  .attr("font-size", "7.5px").attr("font-weight", "bold")
  .attr("fill", "#000")
  .text((d, i) => String(i + 1).padStart(2, "0"));

// title box
svg.append("rect").attr("x", 20.5).attr("y", 667.5).attr("width", 419).attr("height", 31)
  .attr("fill", "none").attr("stroke", "#000").attr("stroke-width", 1.5);
label(30, 681, "Diagramme des ensembles GEFS sur 384h : 52N 5.7E", { size: "11.6px", bold: true });
label(30, 695, "Température 2m (°C) , précipitations (mm)");
label(450, 676, "Ensemble GEFS du 06/02/2021 - 12Z");
label(450, 696, "Copyright 2021 Meteociel.fr", { size: "11.6px", bold: true });
</script>
</body>
</html>
